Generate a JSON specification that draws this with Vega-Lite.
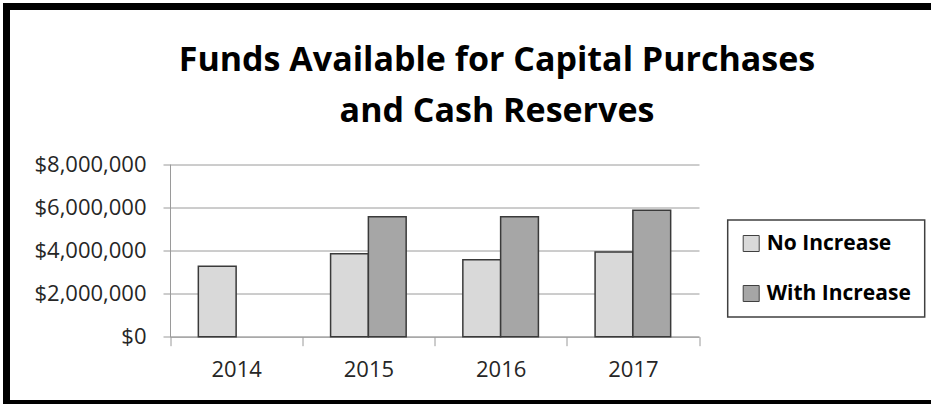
{
  "$schema": "https://vega.github.io/schema/vega-lite/v6.json",
  "width": 960,
  "height": 397,
  "autosize": {"type": "none"},
  "padding": {"left": 6.5, "top": 6.5, "right": 0, "bottom": 0},
  "background": "white",
  "title": {
    "text": ["Funds Available for Capital Purchases", "and Cash Reserves"],
    "font": "Open Sans",
    "fontSize": 34,
    "fontWeight": "bold",
    "color": "black",
    "lineHeight": 51,
    "anchor": "middle",
    "frame": "group",
    "offset": -122,
    "dx": 10.5
  },
  "data": {
    "values": [
      {"year": "2014", "scenario": "No Increase", "funds": 3260000},
      {"year": "2015", "scenario": "No Increase", "funds": 3840000},
      {"year": "2015", "scenario": "With Increase", "funds": 5560000},
      {"year": "2016", "scenario": "No Increase", "funds": 3560000},
      {"year": "2016", "scenario": "With Increase", "funds": 5560000},
      {"year": "2017", "scenario": "No Increase", "funds": 3920000},
      {"year": "2017", "scenario": "With Increase", "funds": 5860000}
    ]
  },
  "mark": {"type": "bar", "stroke": "#3a3a3a", "strokeWidth": 1.5},
  "encoding": {
    "x": {
      "field": "year",
      "type": "nominal",
      "scale": {"domain": ["2014", "2015", "2016", "2017"], "range": [163.5, 692.5], "paddingInner": 0, "paddingOuter": 0},
      "axis": {
        "title": null,
        "offset": -66.8,
        "tickBand": "extent",
        "tickSize": 9,
        "tickColor": "#9a9a9a",
        "domainColor": "#9a9a9a",
        "labelAngle": 0,
        "labelFont": "Open Sans",
        "labelFontSize": 22,
        "labelColor": "#262626",
        "labelPadding": 14,
        "grid": false
      }
    },
    "xOffset": {
      "field": "scenario",
      "type": "nominal",
      "scale": {"domain": ["No Increase", "With Increase"], "paddingInner": 0, "paddingOuter": 0.75}
    },
    "y": {
      "field": "funds",
      "type": "quantitative",
      "scale": {"domain": [0, 8000000], "nice": false, "range": [330.2, 157.5]},
      "axis": {
        "title": null,
        "offset": -163.5,
        "values": [0, 2000000, 4000000, 6000000, 8000000],
        "format": "$,.0f",
        "tickSize": 7,
        "tickColor": "#9a9a9a",
        "domainColor": "#9a9a9a",
        "grid": true,
        "gridColor": "#9a9a9a",
        "labelFont": "Open Sans",
        "labelFontSize": 22,
        "labelColor": "#262626",
        "labelPadding": 17
      }
    },
    "color": {
      "field": "scenario",
      "type": "nominal",
      "scale": {"domain": ["No Increase", "With Increase"], "range": ["#d9d9d9", "#a6a6a6"]},
      "legend": {
        "title": null,
        "orient": "none",
        "legendX": 721.2,
        "legendY": 213.5,
        "padding": 13,
        "strokeColor": "#404040",
        "symbolType": "square",
        "symbolSize": 256,
        "symbolStrokeColor": "#404040",
        "symbolStrokeWidth": 1,
        "labelFont": "Open Sans",
        "labelFontSize": 21,
        "labelFontWeight": "bold",
        "labelColor": "black",
        "labelOffset": 5,
        "rowPadding": 28
      }
    }
  },
  "config": {
    "view": {"fill": "white", "stroke": "black", "strokeWidth": 7},
    "legend": {"strokeWidth": 1.5}
  }
}
